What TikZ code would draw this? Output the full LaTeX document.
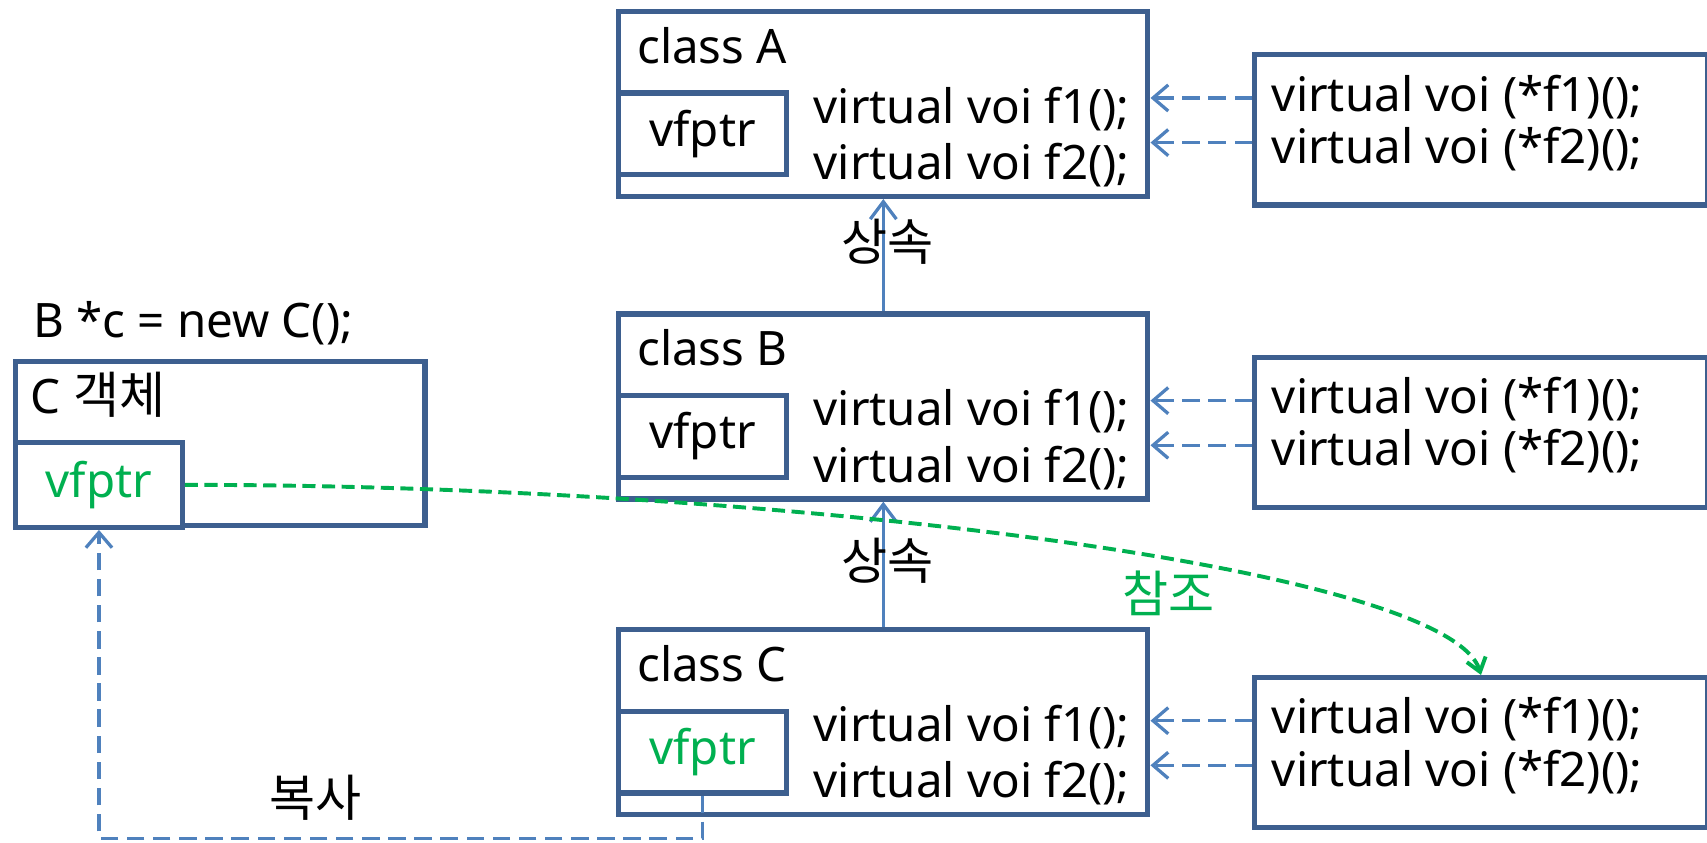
\documentclass[tikz,border=0pt]{standalone}
\usepackage{fontspec}
\setmainfont{Noto Sans CJK KR}
\newfontfamily\latinface{Noto Sans}
\usetikzlibrary{arrows.meta,calc}

\definecolor{boxblue}{RGB}{61,95,143}
\definecolor{linkblue}{RGB}{79,129,189}
\definecolor{refgreen}{RGB}{0,176,80}

\newcommand\codefont{\latinface\fontsize{21.8pt}{26pt}\selectfont}
\newcommand\korfont{\rmfamily\fontsize{23pt}{27pt}\selectfont}

\tikzset{
  frame/.style={draw=boxblue, line width=2.4pt, fill=white, rectangle,
    inner sep=0pt, anchor=north west},
  classbox/.style={frame, minimum width=243pt, minimum height=85pt},
  ptrbox/.style={frame, minimum width=77pt, minimum height=37.5pt},
  tablebox/.style={frame, minimum width=208pt, minimum height=69pt},
  objbox/.style={frame, minimum width=188pt, minimum height=75pt},
  code/.style={font=\codefont, inner sep=0pt, anchor=base west},
  kor/.style={font=\korfont, inner sep=0pt},
  slotlink/.style={draw=linkblue, line width=1.5pt, dash pattern=on 8pt off 4pt,
    -{Straight Barb[length=7pt,width=12pt]}},
  inherit/.style={draw=linkblue, line width=1.5pt,
    -{Straight Barb[length=8pt,width=12pt]}},
  reflink/.style={draw=refgreen, line width=1.8pt, dash pattern=on 6pt off 3pt,
    -{Straight Barb[length=6pt,width=9pt]}},
}

\begin{document}
\begin{tikzpicture}[x=0.5pt,y=-0.5pt]
\useasboundingbox (0,0) rectangle (1568,774);

% class boxes with their vfptr slot and member functions
\foreach \c/\dy/\vc in {A/0/black, B/278/black, C/568/refgreen} {
  \node[classbox] (cls\c) at (566,8+\dy) {};
  \node[ptrbox] (vf\c) at (566,83+\dy) {};
  \node[code, anchor=center, text=\vc] (vft\c) at (vf\c.center) {vfptr};
  \node[code] (name\c) at (585,58+\dy) {class \c};
  \node[code] (fa\c) at (747,113+\dy) {virtual voi f1();};
  \node[code] (fb\c) at (747,165+\dy) {virtual voi f2();};
}

% virtual function tables
\foreach \c/\dy in {A/0, B/278, C/572} {
  \node[tablebox] (tab\c) at (1150,48+\dy) {};
  \node[code] (sa\c) at (1168,102+\dy) {virtual voi (*f1)();};
  \node[code] (sb\c) at (1168,150+\dy) {virtual voi (*f2)();};
  \coordinate (ra\c) at (1100,90+\dy);
  \coordinate (rb\c) at (1100,131+\dy);
  \draw[slotlink] (tab\c.west |- ra\c) -- (cls\c.east |- ra\c);
  \draw[slotlink] (tab\c.west |- rb\c) -- (cls\c.east |- rb\c);
}

% inheritance
\draw[inherit] (clsB.north) -- (clsA.south);
\draw[inherit] (clsC.north) -- (clsB.south);
\node[kor] (inhAB) at (815,222) {상속};
\node[kor] (inhBC) at (815,515) {상속};

% the C object created through a B pointer
\node[code] (decl) at (30,310) {B *c = new C();};
\node[objbox] (obj) at (12,330) {};
\node[code] (objname) at (28,380) {C {\korfont 객체}};
\node[ptrbox, minimum width=76.5pt, minimum height=39pt] (objvf) at (12,404) {};
\node[code, anchor=center, text=refgreen] (objvft) at (objvf.center) {vfptr};

% vfptr copied from class C
\coordinate (cpy) at (400,770);
\draw[slotlink] (vfC.south) -- (vfC.south |- cpy) -| (objvf.south);
\node[kor] (copylabel) at (290,733) {복사};

% object's vfptr refers to the table of C
\draw[reflink] (objvf.east) .. controls (700,445) and (1330,520) .. (tabC.north);
\node[kor, text=refgreen] (reflabel) at (1073,545) {참조};
\end{tikzpicture}
\end{document}
